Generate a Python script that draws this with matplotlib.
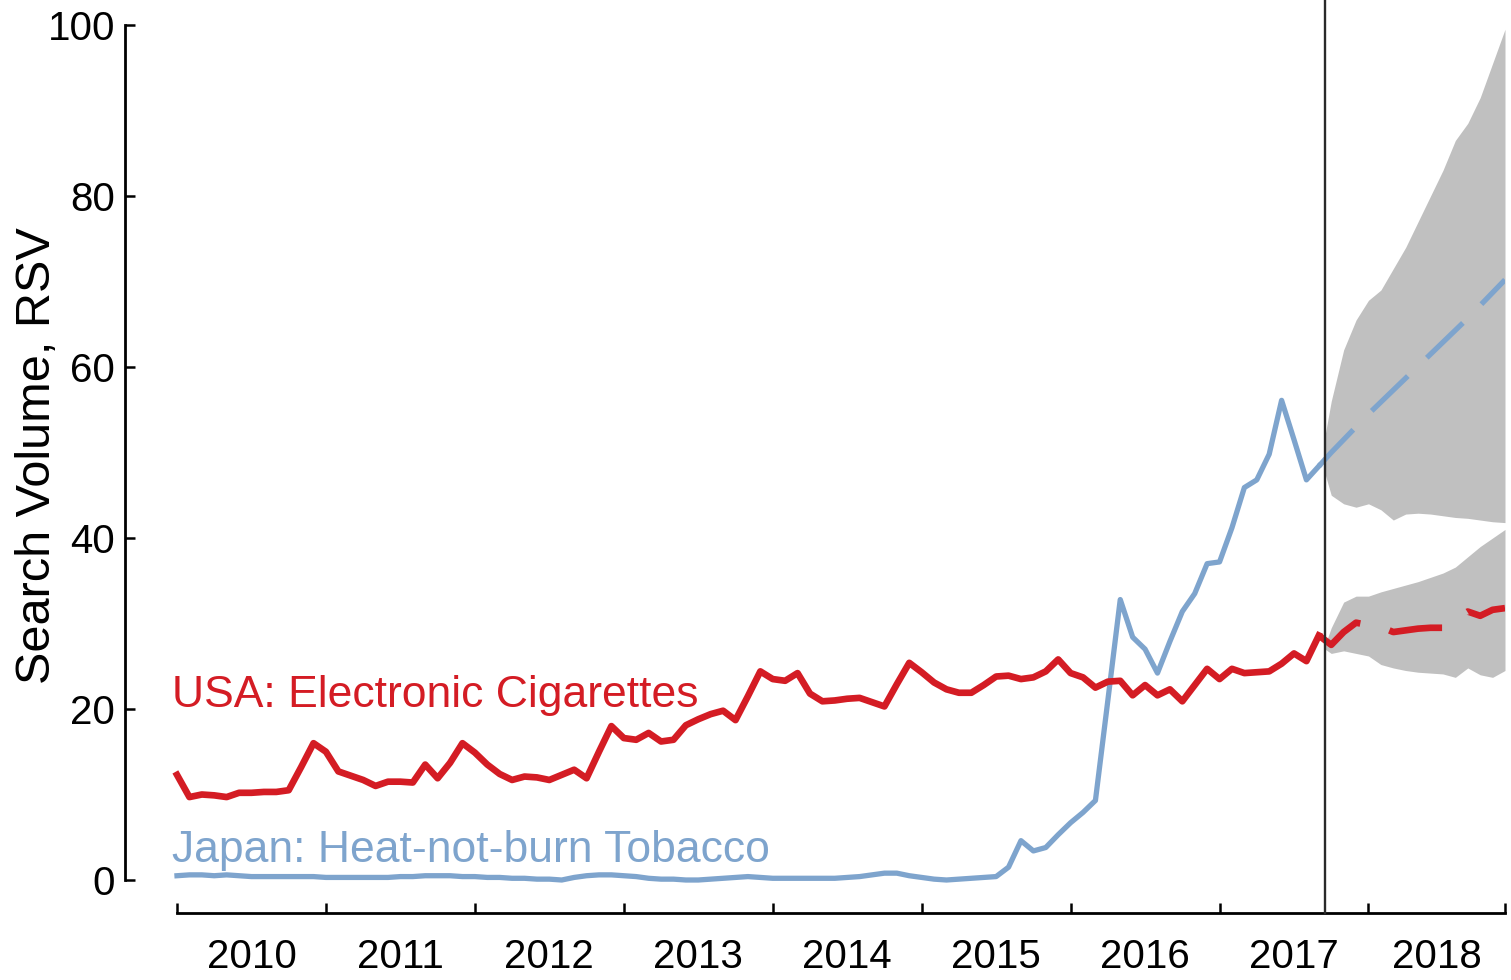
import matplotlib
matplotlib.use("Agg")
import matplotlib.pyplot as plt
import numpy as np

plt.rcParams['font.family'] = ['Liberation Sans', 'DejaVu Sans']

# monthly search volume, index 0 = Jan 2010, 92 = Sep 2017
usa_ecig = [
    12.3, 9.7, 10.0, 9.9, 9.7, 10.2, 10.2, 10.3, 10.3, 10.5, 13.2, 16.0,
    15.0, 12.7, 12.2, 11.7, 11.0, 11.5, 11.5, 11.4, 13.5, 11.9, 13.7, 16.0,
    14.9, 13.5, 12.4, 11.7, 12.1, 12.0, 11.7, 12.3, 12.9, 11.9, 15.0, 18.0,
    16.6, 16.4, 17.2, 16.2, 16.4, 18.1, 18.8, 19.4, 19.8, 18.7, 21.5, 24.4,
    23.5, 23.3, 24.2, 21.8, 20.9, 21.0, 21.2, 21.3, 20.8, 20.3, 22.9, 25.4,
    24.3, 23.1, 22.3, 21.9, 21.9, 22.8, 23.8, 23.9, 23.5, 23.7, 24.4, 25.8,
    24.2, 23.7, 22.5, 23.2, 23.3, 21.6, 22.8, 21.6, 22.3, 20.9, 22.8, 24.7,
    23.5, 24.7, 24.2, 24.3, 24.4, 25.3, 26.5, 25.6, 28.6,
]
japan_hnb = [
    0.5, 0.6, 0.6, 0.5, 0.6, 0.5, 0.4, 0.4, 0.4, 0.4, 0.4, 0.4,
    0.3, 0.3, 0.3, 0.3, 0.3, 0.3, 0.4, 0.4, 0.5, 0.5, 0.5, 0.4,
    0.4, 0.3, 0.3, 0.2, 0.2, 0.1, 0.1, 0.0, 0.3, 0.5, 0.6, 0.6,
    0.5, 0.4, 0.2, 0.1, 0.1, 0.0, 0.0, 0.1, 0.2, 0.3, 0.4, 0.3,
    0.2, 0.2, 0.2, 0.2, 0.2, 0.2, 0.3, 0.4, 0.6, 0.8, 0.8, 0.5,
    0.3, 0.1, 0.0, 0.1, 0.2, 0.3, 0.4, 1.5, 4.6, 3.4, 3.8, 5.3,
    6.7, 7.9, 9.3, 21.0, 32.8, 28.4, 27.0, 24.2, 27.9, 31.4, 33.5, 37.0,
    37.2, 41.2, 45.9, 46.8, 49.8, 56.1, 51.5, 46.8, 48.4,
]

# forecast, months 92..107 (Sep 2017 - Dec 2018)
usa_fc = [28.6, 27.5, 29.0, 30.1, 29.8, 29.6, 29.0, 29.2, 29.4, 29.5, 29.5, 30.5, 31.4, 30.9, 31.6, 31.8]
japan_fc = [48.4, 50.0, 51.5, 53.0, 54.5, 55.9, 57.3, 58.7, 60.1, 61.5, 62.9, 64.3, 65.7, 67.2, 68.7, 70.2]

# prediction intervals, months 92.5, 93..107
band_months = [92.5] + list(range(93, 108))
japan_hi = [52.0, 56.0, 62.0, 65.5, 67.8, 69.0, 71.5, 74.0, 77.0, 80.0, 83.0, 86.5, 88.5, 91.5, 95.5, 99.5]
japan_lo = [47.5, 45.0, 44.0, 43.6, 44.0, 43.3, 42.1, 42.8, 42.9, 42.8, 42.6, 42.4, 42.3, 42.1, 41.9, 41.8]
usa_hi = [27.5, 29.5, 32.5, 33.2, 33.2, 33.7, 34.1, 34.5, 34.9, 35.4, 35.9, 36.6, 37.8, 39.0, 40.0, 41.0]
usa_lo = [27.0, 26.5, 26.8, 26.5, 26.2, 25.2, 24.8, 24.5, 24.3, 24.2, 24.1, 23.7, 24.8, 24.0, 23.7, 24.5]

years = [2010, 2011, 2012, 2013, 2014, 2015, 2016, 2017, 2018]

red = '#d41c24'
blue = '#7ea4cd'
gray = '#c0c0c0'


def to_year(months):
    return 2010 + np.asarray(months, dtype=float) / 12


obs_x = to_year(range(len(usa_ecig)))
fc_x = to_year(range(92, 108))
band_x = to_year(band_months)
x_end = to_year(107)
x_cut = to_year(92.5)

fig = plt.figure(figsize=(15.11, 9.80), dpi=100)
ax = fig.add_axes([177 / 1511, 100 / 980, (1505 - 177) / 1511, 855 / 980])

ax.fill_between(band_x, japan_lo, japan_hi, color=gray, lw=0, zorder=1)
ax.fill_between(band_x, usa_lo, usa_hi, color=gray, lw=0, zorder=1)

ax.plot(obs_x, japan_hnb, color=blue, lw=3.8, zorder=3, clip_on=False)
ax.plot(obs_x, usa_ecig, color=red, lw=4.8, zorder=4, clip_on=False)
ax.plot(fc_x, japan_fc, color=blue, lw=3.8, dashes=(9.5, 5), zorder=3)
ax.plot(fc_x, usa_fc, color=red, lw=4.8, dashes=(8, 4.5), zorder=4)

# forecast start marker, runs from the bottom spine to the top of the figure
ax.plot([x_cut, x_cut], [-0.0386, 1.03], color='#2a2a2a', lw=1.7,
        transform=ax.get_xaxis_transform(), clip_on=False, zorder=5)

ax.text(2009.966, 20.2, 'USA: Electronic Cigarettes', color=red, fontsize=32,
        va='baseline', ha='left', zorder=6)
ax.text(2009.966, 2.1, 'Japan: Heat-not-burn Tobacco', color=blue, fontsize=32,
        va='baseline', ha='left', zorder=6)

ax.set_xlim(2010, x_end)
ax.set_ylim(0, 100)

for s in ['top', 'right']:
    ax.spines[s].set_visible(False)
ax.spines['left'].set_position(('outward', 37.4))
ax.spines['bottom'].set_position(('outward', 23.8))
ax.spines['left'].set_bounds(0, 100)
ax.spines['bottom'].set_bounds(2010, x_end)
ax.spines['left'].set_linewidth(2)
ax.spines['bottom'].set_linewidth(2)

ax.set_yticks([0, 20, 40, 60, 80, 100])
ax.tick_params(axis='y', direction='in', length=7, width=1.8, pad=7, labelsize=29)

major = list(years) + [x_end]
ax.set_xticks(major)
ax.set_xticklabels([])
ax.set_xticks([(major[i] + major[i + 1]) / 2 for i in range(len(years))], minor=True)
ax.set_xticklabels([str(y) for y in years], minor=True)
ax.tick_params(axis='x', which='major', direction='in', length=7, width=1.8)
ax.tick_params(axis='x', which='minor', length=0, pad=18, labelsize=29)

fig.text(38 / 1511, 1 - 456 / 980, 'Search Volume, RSV', fontsize=35,
         rotation=90, ha='center', va='center')

fig.savefig('out.png', dpi=100)
